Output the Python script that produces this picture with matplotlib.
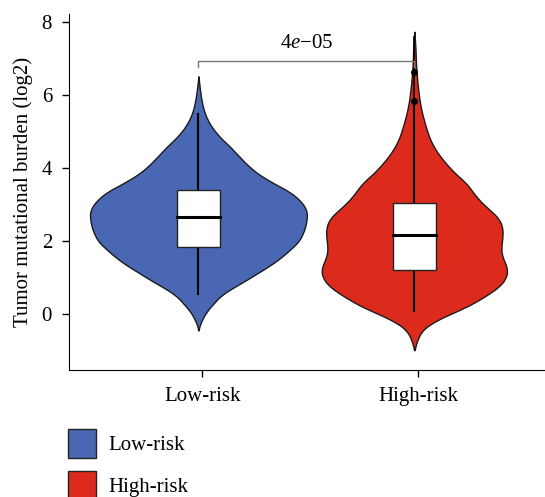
import matplotlib.pyplot as plt
import numpy as np
from matplotlib.patches import Patch

plt.rcParams['font.family'] = ['Liberation Serif', 'DejaVu Serif']
plt.rcParams['mathtext.fontset'] = 'custom'
plt.rcParams['mathtext.rm'] = 'Liberation Serif'
plt.rcParams['mathtext.it'] = 'Liberation Serif:italic'

groups = ['Low-risk', 'High-risk']
colors = ['#4A67B3', '#DC2B1C']

# violin outline: y level (log2 TMB) and half width
low_y = [-0.44, -0.3, -0.1, 0.1, 0.3, 0.5, 0.7, 0.9, 1.1, 1.3, 1.5, 1.75, 2.0,
         2.3, 2.6, 2.85, 3.1, 3.35, 3.6, 3.85, 4.1, 4.35, 4.6, 4.85, 5.1, 5.35,
         5.6, 5.9, 6.2, 6.52]
low_w = [0.0, 0.005, 0.02, 0.04, 0.07, 0.10, 0.15, 0.21, 0.265, 0.32, 0.37,
         0.42, 0.465, 0.49, 0.502, 0.502, 0.475, 0.425, 0.345, 0.275, 0.225,
         0.185, 0.145, 0.10, 0.065, 0.04, 0.024, 0.013, 0.006, 0.0]
high_y = [-0.98, -0.8, -0.6, -0.4, -0.2, 0.0, 0.2, 0.4, 0.6, 0.8, 1.0, 1.2, 1.4,
          1.6, 1.8, 2.0, 2.2, 2.4, 2.6, 2.8, 3.0, 3.2, 3.4, 3.6, 3.8, 4.0, 4.2,
          4.4, 4.6, 4.8, 5.0, 5.3, 5.6, 5.9, 6.3, 6.8, 7.3, 7.74]
high_w = [0.0, 0.008, 0.02, 0.04, 0.09, 0.16, 0.24, 0.30, 0.355, 0.40, 0.425,
          0.432, 0.422, 0.405, 0.402, 0.405, 0.41, 0.407, 0.395, 0.362, 0.322,
          0.29, 0.265, 0.24, 0.2, 0.166, 0.137, 0.11, 0.089, 0.072, 0.06,
          0.045, 0.032, 0.023, 0.015, 0.008, 0.005, 0.0]

# box stats: whisker low, q1, median, q3, whisker high
box_stats = [[0.56, 1.85, 2.66, 3.41, 5.5],
             [0.1, 1.23, 2.17, 3.06, 5.8]]
outliers_high = [5.85, 6.63]
p_text = '4$\\it{e}$\u221205'

fig = plt.figure(figsize=(5.45, 4.97), dpi=100)
ax = fig.add_axes([0.126, 0.2555, 0.874, 0.716])

shift = -0.018  # violins sit a little left of the ticks in the original
profiles = [(low_y, low_w), (high_y, high_w)]
for i, (yy, ww) in enumerate(profiles):
    pos = i + 1 + shift
    # smooth the traced outline a bit
    yf = np.linspace(yy[0], yy[-1], 400)
    wf = np.interp(yf, yy, ww)
    k = np.ones(15) / 15
    wf = np.convolve(np.pad(wf, 7, mode='edge'), k, mode='valid')
    wf[0] = 0
    wf[-1] = 0
    ax.fill_betweenx(yf, pos - wf, pos + wf, facecolor=colors[i],
                     edgecolor='#1a1a1a', linewidth=1.0, zorder=1)
    wl, q1, med, q3, wh = box_stats[i]
    ax.plot([pos, pos], [wl, wh], color='black', lw=1.5, zorder=2)
    ax.add_patch(plt.Rectangle((pos - 0.098, q1), 0.196, q3 - q1,
                               facecolor='white', edgecolor='#222222',
                               lw=1.0, zorder=3))
    ax.plot([pos - 0.098, pos + 0.098], [med, med], color='black', lw=2.2,
            zorder=4)

ax.plot([2 + shift, 2 + shift], [5.8, 7.6], color='black', lw=1.2, zorder=2)
ax.scatter([2 + shift] * len(outliers_high), outliers_high, s=16,
           color='black', zorder=5)

# significance bracket
ax.plot([1 + shift, 1 + shift, 2 + shift, 2 + shift],
        [6.78, 6.95, 6.95, 6.78], color='#777777', lw=1.0, zorder=6)
ax.text(1.5 + shift, 7.42, p_text, ha='center', va='center', fontsize=15)

ax.set_xlim(0.381, 2.587)
ax.set_ylim(-1.52, 8.22)
ax.set_xticks([1, 2])
ax.set_xticklabels(groups)
ax.set_yticks([0, 2, 4, 6, 8])
ax.tick_params(labelsize=15, length=5, width=1.0, pad=7)
ax.spines['top'].set_visible(False)
ax.spines['right'].set_visible(False)
ax.set_ylabel('Tumor mutational burden (log2)', fontsize=15, labelpad=6)

handles = [Patch(facecolor=c, edgecolor='#222222', lw=1.0) for c in colors]
fig.legend(handles, groups, loc='upper left', bbox_to_anchor=(0.125, 0.137),
           frameon=False, fontsize=15, handlelength=1.35, handleheight=1.75,
           labelspacing=0.62, handletextpad=0.6, borderaxespad=0, borderpad=0)

fig.savefig('out.png', dpi=100)
